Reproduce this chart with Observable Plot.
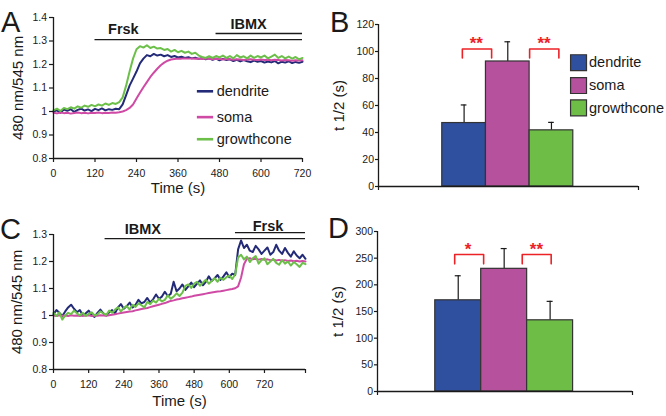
<!DOCTYPE html>
<html><head><meta charset="utf-8">
<script src="https://cdn.jsdelivr.net/npm/d3@7"></script>
<script src="https://cdn.jsdelivr.net/npm/@observablehq/plot@0.6"></script>
<style>
html,body{margin:0;padding:0;background:#fff;}
#fig{position:relative;width:666px;height:416px;overflow:hidden;font-family:Arial,"Liberation Sans",Helvetica,sans-serif;}
.panel{position:absolute;}
.letter{position:absolute;font-size:29px;line-height:29px;color:#1a1a1a;}
</style></head><body><div id="fig"></div>
<script>
// ---------- categories ----------
const series = ["dendrite", "soma", "growthcone"];
const lineColors = ["#232a78", "#cf4aa5", "#6cc04a"];
const barColors = ["#2f4f9f", "#b5519d", "#6dbd47"];

// ---------- Panel A traces (sampled every 10 s, 0..720 s) ----------
const stepA = 10;
const dendriteA = [1.000,1.005,0.995,1.008,1.003,1.010,0.998,1.007,1.012,1.004,1.009,1.002,1.011,1.006,1.013,1.005,1.010,1.007,1.012,1.010,
1.030,1.070,1.110,1.140,1.170,1.205,1.225,1.240,1.235,1.245,1.238,1.242,1.235,1.240,1.232,1.236,1.230,1.233,1.228,1.231,
1.226,1.229,1.224,1.228,1.222,1.226,1.220,1.225,1.218,1.224,1.219,1.222,1.215,1.220,1.213,1.219,1.214,1.210,1.217,1.212,
1.215,1.208,1.213,1.209,1.215,1.205,1.212,1.208,1.214,1.206,1.211,1.207,1.212];
const somaA = [0.995,0.992,0.996,0.993,0.995,0.991,0.994,0.996,0.993,0.995,0.992,0.995,0.994,0.996,0.993,0.995,0.994,0.996,0.995,0.997,
1.000,1.006,1.015,1.030,1.055,1.080,1.103,1.125,1.147,1.165,1.182,1.197,1.208,1.216,1.221,1.223,1.225,1.225,1.226,1.225,
1.226,1.224,1.225,1.223,1.225,1.224,1.222,1.224,1.223,1.221,1.223,1.222,1.220,1.222,1.221,1.219,1.221,1.222,1.220,1.219,
1.221,1.219,1.220,1.218,1.220,1.219,1.217,1.219,1.218,1.216,1.218,1.217,1.218];
const growthconeA = [1.005,1.012,1.002,1.015,1.010,1.018,1.012,1.022,1.016,1.025,1.020,1.028,1.022,1.030,1.025,1.034,1.028,1.036,1.032,1.040,
1.060,1.110,1.170,1.225,1.265,1.278,1.272,1.282,1.270,1.276,1.268,1.270,1.262,1.266,1.255,1.262,1.252,1.258,1.250,1.255,
1.245,1.250,1.238,1.232,1.228,1.235,1.228,1.236,1.230,1.238,1.228,1.236,1.226,1.240,1.230,1.235,1.226,1.238,1.228,1.236,
1.230,1.238,1.226,1.234,1.242,1.228,1.236,1.226,1.234,1.225,1.232,1.222,1.228];

// ---------- Panel C traces (sampled every 10 s, 0..860 s) ----------
const stepC = 10;
const dendriteC = [1.005,1.020,1.010,0.998,1.015,1.030,1.040,1.025,1.012,1.020,1.000,1.008,1.018,1.002,0.995,1.010,1.022,1.008,1.000,1.012,
1.020,1.008,1.030,1.042,1.025,1.035,1.048,1.030,1.040,1.058,1.045,1.050,1.065,1.048,1.060,1.078,1.062,1.070,1.088,1.072,
1.080,1.125,1.090,1.100,1.115,1.095,1.108,1.122,1.105,1.118,1.130,1.112,1.125,1.145,1.128,1.138,1.150,1.132,1.145,1.160,
1.142,1.155,1.150,1.245,1.278,1.250,1.262,1.240,1.235,1.258,1.245,1.228,1.240,1.252,1.225,1.235,1.262,1.240,1.228,1.250,
1.232,1.218,1.238,1.222,1.212,1.225,1.210];
const somaC = [1.000,0.998,1.001,0.999,1.000,0.998,1.001,0.999,1.000,0.998,1.000,0.999,1.001,0.998,1.000,0.999,1.001,1.000,0.999,1.001,
1.003,1.005,1.007,1.009,1.011,1.013,1.015,1.016,1.019,1.021,1.024,1.026,1.028,1.031,1.034,1.037,1.040,1.043,1.046,1.050,
1.054,1.056,1.059,1.061,1.064,1.066,1.068,1.070,1.073,1.075,1.077,1.079,1.081,1.083,1.085,1.087,1.089,1.090,1.092,1.094,
1.096,1.098,1.101,1.108,1.140,1.190,1.210,1.212,1.208,1.210,1.207,1.209,1.206,1.208,1.205,1.207,1.204,1.206,1.203,1.205,
1.202,1.204,1.201,1.203,1.200,1.202,1.200];
const growthconeC = [1.010,0.998,1.012,0.985,1.000,1.010,1.005,1.018,1.008,1.000,1.010,0.998,1.006,1.012,1.000,1.004,1.015,1.008,1.002,1.018,
1.010,1.022,1.030,1.015,1.028,1.035,1.022,1.040,1.032,1.045,1.038,1.030,1.050,1.042,1.055,1.048,1.062,1.052,1.058,1.075,
1.062,1.070,1.082,1.072,1.085,1.110,1.115,1.102,1.118,1.125,1.110,1.122,1.132,1.118,1.128,1.138,1.125,1.140,1.132,1.142,
1.148,1.135,1.152,1.215,1.225,1.208,1.218,1.198,1.212,1.220,1.192,1.205,1.212,1.190,1.200,1.210,1.195,1.188,1.205,1.192,
1.200,1.185,1.198,1.190,1.180,1.195,1.190];

// ---------- tick labels ----------
const timeTicksA = [0, 120, 240, 360, 480, 600, 720];
const ratioTicksA = [0.8, 0.9, 1, 1.1, 1.2, 1.3, 1.4];
const timeTicksC = [0, 120, 240, 360, 480, 600, 720];
const ratioTicksC = [0.8, 0.9, 1, 1.1, 1.2, 1.3];
const tTicksB = [0, 20, 40, 60, 80, 100, 120];
const tTicksD = [0, 50, 100, 150, 200, 250, 300];

// ---------- drug application bars ----------
const stimNames = ["Frsk", "IBMX"];
const stimStartA = [120, 470];   // s
const stimStartC = [621, 176];   // s

// ---------- bar charts: t 1/2 (s) ----------
const meanB = [47.0, 92.6, 41.6];
const errB = [13.4, 14.6, 5.9];
const meanD = [171, 230, 133.5];
const errD = [46, 38, 35.5];
const sigB = ["**", "**"];   // dendrite vs soma, soma vs growthcone
const sigD = ["*", "**"];

// ================= drawing =================
const FONT = "Arial, 'Liberation Sans', Helvetica, sans-serif";
const INK = "#1a1a1a";
const RED = "#ec2227";
const fmtRatio = d => String(+d.toFixed(2));
const fig = document.getElementById("fig");

function place(node, left, top) {
  node.classList.add("panel");
  node.style.left = left + "px";
  node.style.top = top + "px";
  fig.appendChild(node);
}
function letter(ch, left, top) {
  const d = document.createElement("div");
  d.className = "letter"; d.textContent = ch;
  d.style.left = left + "px"; d.style.top = top + "px";
  fig.appendChild(d);
}
function traces(arrs, step) {
  const out = [];
  arrs.forEach((arr, k) => arr.forEach((v, i) => out.push({t: i * step, v, series: series[k]})));
  return out;
}

function tracePanel({data, width, height, margin, xDomain, yDomain, xTicks, yTicks, stim, legend, yLabelDx, xLabelDy}) {
  return Plot.plot({
    width, height,
    marginLeft: margin[0], marginRight: margin[1], marginTop: margin[2], marginBottom: margin[3],
    style: {fontFamily: FONT, background: "transparent", overflow: "visible", color: INK},
    x: {domain: xDomain},
    y: {domain: yDomain},
    color: {domain: series, range: lineColors},
    marks: [
      Plot.ruleY(stim, {y: "level", x1: "start", x2: "end", stroke: INK, strokeWidth: 1.3}),
      Plot.text(stim, {x: "lx", y: "ly", text: "name", fontWeight: "bold", fontSize: 14.5, fill: INK}),
      Plot.line(data, {x: "t", y: "v", stroke: "series", z: "series", strokeWidth: 2}),
      legend ? Plot.ruleY(series, {y: (d, i) => legend.y[i], x1: legend.x1, x2: legend.x2, stroke: d => d, strokeWidth: 2.6}) : null,
      legend ? Plot.text(series, {y: (d, i) => legend.y[i], x: legend.tx, text: d => d, textAnchor: "start", fontSize: 14.5, fill: INK}) : null,
      Plot.ruleX([xDomain[0]], {stroke: INK, strokeWidth: 1.3}),
      Plot.ruleY([yDomain[0]], {stroke: INK, strokeWidth: 1.3}),
      Plot.axisX({ticks: xTicks, tickSize: 4, tickPadding: 7.5, fontSize: 10.5, label: null,
                  tickFormat: d => (d > 720 ? "" : String(d)), strokeWidth: 1.2}),
      Plot.axisY({ticks: yTicks, tickSize: 4, tickPadding: 2.5, fontSize: 10.5, label: null, tickFormat: fmtRatio, strokeWidth: 1.2}),
      Plot.text(["Time (s)"], {frameAnchor: "bottom", dy: xLabelDy, fontSize: 15, fill: INK}),
      Plot.text(["480 nm/545 nm"], {frameAnchor: "left", textAnchor: "middle", dx: yLabelDx, rotate: -90, fontSize: 15, fill: INK})
    ]
  });
}

function barPanel({mean, err, sig, width, height, margin, xMax, offset, yMax, yTicks, brackets, legend}) {
  const rows = series.map((s, i) => ({s, i, m: mean[i], e: err[i], c: offset + i + 0.5}));
  const capHalf = 0.065;
  const br = brackets.map((b, k) => ({...b, label: sig[k]}));
  const brPts = br.flatMap((b, k) => [
    {k, x: b.x1, y: b.bottom}, {k, x: b.x1, y: b.top}, {k, x: b.x2, y: b.top}, {k, x: b.x2, y: b.bottom}
  ]);
  return Plot.plot({
    width, height,
    marginLeft: margin[0], marginRight: margin[1], marginTop: margin[2], marginBottom: margin[3],
    style: {fontFamily: FONT, background: "transparent", overflow: "visible", color: INK},
    x: {domain: [0, xMax]},
    y: {domain: [0, yMax]},
    color: {domain: series, range: barColors},
    marks: [
      Plot.ruleX(rows, {x: "c", y1: "m", y2: d => d.m + d.e, stroke: INK, strokeWidth: 1.2}),
      Plot.ruleY(rows, {y: d => d.m + d.e, x1: d => d.c - capHalf, x2: d => d.c + capHalf, stroke: INK, strokeWidth: 1.2}),
      Plot.rectY(rows, {x1: d => offset + d.i, x2: d => offset + d.i + 1, y1: 0, y2: "m", fill: "s", stroke: "#333", strokeWidth: 1.2}),
      Plot.line(brPts, {x: "x", y: "y", z: "k", stroke: RED, strokeWidth: 1.6}),
      Plot.text(br, {x: "lx", y: "top", text: "label", dy: -5, fill: RED, fontWeight: "bold", fontSize: 17}),
      legend ? Plot.dot(series, {x: legend.x, y: (d, i) => legend.y[i], symbol: "square", r: 9, fill: d => d, stroke: "#333", strokeWidth: 1.2}) : null,
      legend ? Plot.text(series, {x: legend.tx, y: (d, i) => legend.y[i], text: d => d, textAnchor: "start", fontSize: 14.5, fill: INK}) : null,
      Plot.ruleX([0], {stroke: INK, strokeWidth: 1.3}),
      Plot.ruleY([0], {stroke: INK, strokeWidth: 1.3}),
      Plot.axisX({ticks: [0, xMax], tickSize: 4, tickFormat: () => "", label: null, strokeWidth: 1.2}),
      Plot.axisY({ticks: yTicks, tickSize: 3, tickPadding: 1.5, fontSize: 10.5, label: null, strokeWidth: 1.2}),
      Plot.text(["t 1/2 (s)"], {frameAnchor: "left", textAnchor: "middle", dx: -39, rotate: -90, fontSize: 15, fill: INK})
    ]
  });
}

// Panel A
place(tracePanel({
  data: traces([dendriteA, somaA, growthconeA], stepA),
  width: 330, height: 205, margin: [53, 28, 17, 47],
  xDomain: [0, 720], yDomain: [0.8, 1.4], xTicks: timeTicksA, yTicks: ratioTicksA,
  stim: stimNames.map((name, i) => ({name, start: stimStartA[i], end: 720, level: [1.306, 1.332][i], lx: [202, 564][i], ly: [1.349, 1.371][i]})),
  legend: {x1: 416, x2: 463, tx: 472, y: [1.086, 0.976, 0.882]},
  yLabelDx: -35, xLabelDy: 34
}), 0, 0);

// Panel B
place(barPanel({
  mean: meanB, err: errB, sig: sigB,
  width: 336, height: 205, margin: [48, 28, 24, 19],
  xMax: 5.953, offset: 1.46, yMax: 120, yTicks: tTicksB,
  brackets: [{x1: 1.92, x2: 2.59, top: 101.9, bottom: 95.2, lx: 2.24}, {x1: 3.46, x2: 4.13, top: 101.9, bottom: 95.2, lx: 3.79}],
  legend: {x: 4.58, tx: 4.82, y: [91.7, 74.8, 58.2]}
}), 330, 0);

// Panel C
place(tracePanel({
  data: traces([dendriteC, somaC, growthconeC], stepC),
  width: 330, height: 211, margin: [53, 25, 29, 47],
  xDomain: [0, 860], yDomain: [0.8, 1.3], xTicks: [...timeTicksC, 860], yTicks: ratioTicksC,
  stim: stimNames.map((name, i) => ({name, start: stimStartC[i], end: 860, level: [1.307, 1.285][i], lx: [732, 305][i], ly: [1.332, 1.32][i]})),
  legend: null,
  yLabelDx: -36, xLabelDy: 36
}), 0, 205);

// Panel D
place(barPanel({
  mean: meanD, err: errD, sig: sigD,
  width: 336, height: 211, margin: [47, 34, 26, 25],
  xMax: 5.55, offset: 1.257, yMax: 300, yTicks: tTicksD,
  brackets: [{x1: 1.68, x2: 2.31, top: 256.8, bottom: 239.3, lx: 1.97}, {x1: 3.15, x2: 3.78, top: 256.8, bottom: 239.3, lx: 3.46}],
  legend: null
}), 330, 205);

letter("A", 1, 8);
letter("B", 330, 8);
letter("C", 0, 215);
letter("D", 328, 214);
</script>
</body></html>
